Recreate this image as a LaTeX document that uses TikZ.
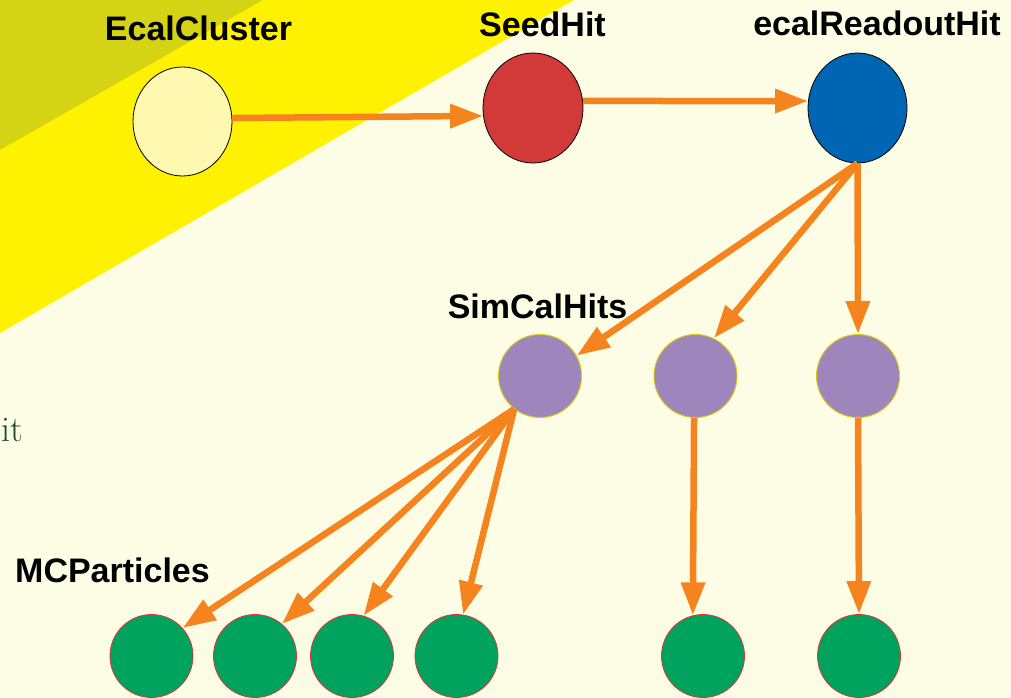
\documentclass[tikz,border=0pt]{standalone}
\usepackage{fontspec}
\setmainfont{Liberation Sans}
\newfontfamily\lmfont{Latin Modern Roman}
\usetikzlibrary{shapes.geometric,arrows.meta}
\definecolor{bg}{RGB}{253,253,230}
\definecolor{band}{RGB}{255,242,0}
\definecolor{olive}{RGB}{212,212,20}
\definecolor{arr}{RGB}{245,132,31}
\definecolor{ecfill}{RGB}{255,248,176}
\definecolor{seedfill}{RGB}{209,58,56}
\definecolor{rofill}{RGB}{0,102,179}
\definecolor{simfill}{RGB}{158,134,189}
\definecolor{simedge}{RGB}{222,200,20}
\definecolor{mcfill}{RGB}{0,163,94}
\definecolor{mcedge}{RGB}{225,50,50}
\definecolor{itgreen}{RGB}{30,75,45}
\begin{document}
\begin{tikzpicture}[x=1pt,y=-1pt,
  bignode/.style={ellipse,draw=black,line width=0.8pt,inner sep=0pt,minimum width=99pt,minimum height=109pt},
  simnode/.style={circle,fill=simfill,draw=simedge,line width=1pt,inner sep=0pt,minimum size=83pt},
  mcnode/.style={circle,fill=mcfill,draw=mcedge,line width=0.8pt,inner sep=0pt,minimum size=83pt},
  lbl/.style={font=\fontsize{34}{40}\selectfont\bfseries,anchor=base,inner sep=0pt},
  flow/.style={draw=arr,line width=6.5pt,-{Triangle[length=33pt,width=23pt]}}]
\useasboundingbox (0,0) rectangle (1011,698);
\fill[bg] (0,0) rectangle (1011,698);
\fill[band] (0,0) -- (574,0) -- (0,333) -- cycle;
\fill[olive] (0,0) -- (263,0) -- (0,150) -- cycle;
% nodes
\node[bignode,fill=ecfill] (ec) at (182.5,121.5) {};
\node[bignode,fill=seedfill,minimum width=100pt,minimum height=110pt] (seed) at (533,108) {};
\node[bignode,fill=rofill,minimum width=99pt,minimum height=110pt] (ro) at (857.5,108) {};
\node[simnode] (s1) at (540,376) {};
\node[simnode] (s2) at (695.5,376) {};
\node[simnode] (s3) at (858,376) {};
\node[mcnode] (m1) at (151.5,656) {};
\node[mcnode] (m2) at (255,656) {};
\node[mcnode] (m3) at (352,656) {};
\node[mcnode] (m4) at (456.5,656) {};
\node[mcnode] (m5) at (703,656) {};
\node[mcnode] (m6) at (859,656) {};
% labels
\node[lbl] (lec) at (198.5,41) {EcalCluster};
\node[lbl] (lseed) at (542.5,37) {SeedHit};
\node[lbl] (lro) at (877,36) {ecalReadoutHit};
\node[lbl] (lsim) at (537.5,318) {SimCalHits};
\node[lbl] (lmc) at (112.5,582) {MCParticles};
\node[font=\lmfont\fontsize{36}{40}\selectfont,text=itgreen,anchor=base east,inner sep=0pt] (it) at (23,441) {it};
% connectors
\draw[flow] (ec.4) -- (seed.189);
\draw[flow] (seed.8) -- (ro.172);
\draw[flow] (ro.south) -- (s1.29);
\draw[flow] (ro.south) -- (s2.64);
\draw[flow] (ro.south) -- (s3.north);
\draw[flow] (s1.232) -- (m1.42);
\draw[flow] (s1.232) -- (m2.50);
\draw[flow] (s1.232) -- (m3.74);
\draw[flow] (s1.232) -- (m4.81);
\draw[flow] (s2.268) -- (m5.104);
\draw[flow] (s3.south) -- (m6.north);
\end{tikzpicture}
\end{document}
